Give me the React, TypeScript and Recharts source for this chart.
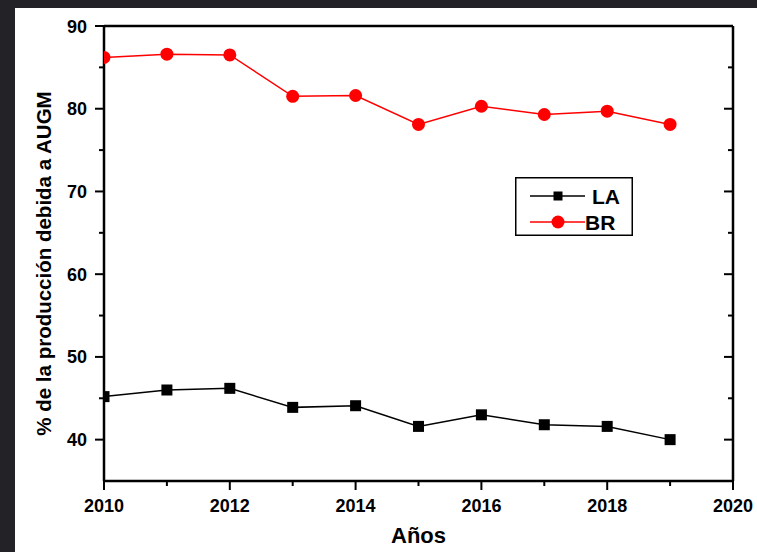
import { LineChart, Line, XAxis, YAxis, Legend } from "recharts"

const years = [2010, 2011, 2012, 2013, 2014, 2015, 2016, 2017, 2018, 2019]
const laValues = [45.2, 46.0, 46.2, 43.9, 44.1, 41.6, 43.0, 41.8, 41.6, 40.0]
const brValues = [86.2, 86.6, 86.5, 81.5, 81.6, 78.1, 80.3, 79.3, 79.7, 78.1]

const xTicks = [2010, 2011, 2012, 2013, 2014, 2015, 2016, 2017, 2018, 2019, 2020]
const yTicks = [40, 45, 50, 55, 60, 65, 70, 75, 80, 85, 90]

const data = years.map((year, i) => ({ year, la: laValues[i], br: brValues[i] }))

const FONT = '"Liberation Sans", Arial, sans-serif'
const axisStyle = { stroke: "#000", strokeWidth: 2.5 }

// Origin-style ticks: long on labelled values, short in between
function BottomTick({ x, y, payload }: any) {
    const major = payload.value % 2 === 0
    return (
        <g>
            <path d={`M${x},${y}V${y + (major ? 9 : 5)}`} stroke="#000" strokeWidth={2} />
            {major && (
                <text x={x} y={y + 31} textAnchor="middle" fontSize={18} fontWeight="bold" fontFamily={FONT} fill="#000">
                    {payload.value}
                </text>
            )}
        </g>
    )
}

function TopTick({ x, y, payload }: any) {
    const major = payload.value % 2 === 0
    return <path d={`M${x},${y}V${y + (major ? 9 : 5)}`} stroke="#000" strokeWidth={2} />
}

function LeftTick({ x, y, payload }: any) {
    const major = payload.value % 10 === 0
    return (
        <g>
            <path d={`M${x},${y}H${x - (major ? 9 : 5)}`} stroke="#000" strokeWidth={2} />
            {major && (
                <text x={x - 17} y={y + 6.5} textAnchor="end" fontSize={18} fontWeight="bold" fontFamily={FONT} fill="#000">
                    {payload.value}
                </text>
            )}
        </g>
    )
}

function RightTick({ x, y, payload }: any) {
    const major = payload.value % 10 === 0
    return <path d={`M${x},${y}H${x - (major ? 9 : 5)}`} stroke="#000" strokeWidth={2} />
}

function SquareDot({ cx, cy, index }: any) {
    return <rect key={`sq-${index}`} x={cx - 5.5} y={cy - 5.5} width={11} height={11} fill="#000" />
}

const seriesOrder = ["LA", "BR"]

function LegendBox({ payload }: any) {
    const items = [...(payload || [])].sort(
        (a: any, b: any) => seriesOrder.indexOf(a.value) - seriesOrder.indexOf(b.value)
    )
    return (
        <svg width={118} height={59} style={{ display: "block" }}>
            <rect x={0.75} y={0.75} width={116.5} height={57.5} fill="#fff" stroke="#000" strokeWidth={1.5} />
            {items.map((entry: any, i: number) => {
                const ly = 19 + i * 26
                return (
                    <g key={entry.value}>
                        <path d={`M15,${ly}H70`} stroke={entry.color} strokeWidth={1.5} />
                        {entry.value === "LA" ? (
                            <rect x={38.5} y={ly - 4.5} width={9} height={9} fill={entry.color} />
                        ) : (
                            <circle cx={43} cy={ly} r={6.5} fill={entry.color} />
                        )}
                        <text x={i === 0 ? 77 : 70} y={ly + 7.5} fontSize={21} fontWeight="bold" fontFamily={FONT} fill="#000">
                            {entry.value}
                        </text>
                    </g>
                )
            })}
        </svg>
    )
}

export default function App() {
    return (
        <div style={{ position: "absolute", left: 0, top: 0, width: 757, height: 552, background: "#232327" }}>
            <div style={{ position: "absolute", left: 15, top: 8, width: 742, height: 544, background: "#fff" }}>
                <LineChart width={742} height={544} data={data} margin={{ top: 17, right: 23, bottom: 0, left: 0 }}>
                    <XAxis
                        dataKey="year"
                        type="number"
                        domain={[2010, 2020]}
                        ticks={xTicks}
                        interval={0}
                        allowDataOverflow
                        height={71}
                        tickSize={0}
                        tickMargin={0}
                        tickLine={false}
                        tick={BottomTick}
                        axisLine={axisStyle}
                        label={(props: any) => {
                            const vb = props.viewBox
                            return (
                                <text x={vb.x + vb.width / 2} y={vb.y + 62} textAnchor="middle" fontSize={22} fontWeight="bold" fontFamily={FONT} fill="#000">
                                    Años
                                </text>
                            )
                        }}
                    />
                    <XAxis
                        xAxisId="top"
                        orientation="top"
                        type="number"
                        domain={[2010, 2020]}
                        ticks={xTicks}
                        interval={0}
                        allowDataOverflow
                        height={1}
                        tickSize={0}
                        tickMargin={0}
                        tickLine={false}
                        tick={TopTick}
                        axisLine={axisStyle}
                    />
                    <YAxis
                        type="number"
                        domain={[35, 90]}
                        ticks={yTicks}
                        interval={0}
                        allowDataOverflow
                        width={89}
                        tickSize={0}
                        tickMargin={0}
                        tickLine={false}
                        tick={LeftTick}
                        axisLine={axisStyle}
                        label={(props: any) => {
                            const vb = props.viewBox
                            const cx = vb.x + 28
                            const cy = vb.y + vb.height / 2 + 10
                            return (
                                <text x={cx} y={cy} transform={`rotate(-90, ${cx}, ${cy})`} textAnchor="middle" dominantBaseline="central" fontSize={20.5} fontWeight="bold" fontFamily={FONT} fill="#000">
                                    % de la producción debida a AUGM
                                </text>
                            )
                        }}
                    />
                    <YAxis
                        yAxisId="right"
                        orientation="right"
                        type="number"
                        domain={[35, 90]}
                        ticks={yTicks}
                        interval={0}
                        allowDataOverflow
                        width={1}
                        tickSize={0}
                        tickMargin={0}
                        tickLine={false}
                        tick={RightTick}
                        axisLine={axisStyle}
                    />
                    <Legend
                        layout="vertical"
                        align="center"
                        verticalAlign="middle"
                        wrapperStyle={{ left: 500, top: 169, width: 118, height: 59 }}
                        content={LegendBox}
                    />
                    <Line dataKey="la" name="LA" stroke="#000" strokeWidth={1.5} dot={SquareDot} activeDot={false} isAnimationActive={false} />
                    <Line dataKey="br" name="BR" stroke="#ff0000" strokeWidth={1.5} dot={{ r: 6.5, fill: "#ff0000", stroke: "none" }} activeDot={false} isAnimationActive={false} />
                </LineChart>
            </div>
        </div>
    )
}
